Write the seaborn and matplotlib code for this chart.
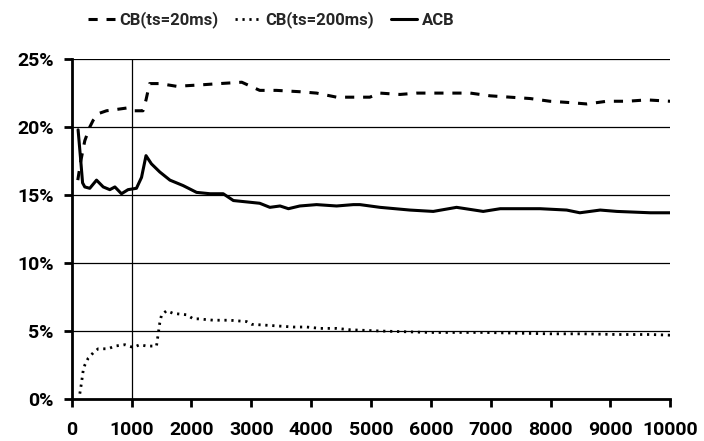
import matplotlib
matplotlib.use("Agg")
import matplotlib.pyplot as plt
import seaborn as sns
import pandas as pd

# Series: fraction (%) over elapsed requests
cb20_x = [100, 150, 217, 300, 357, 450, 580, 750, 914, 1020, 1190, 1240, 1300, 1470,
          1750, 2140, 2475, 2840, 3140, 3420, 3815, 4090, 4425, 4760, 4980, 5150,
          5485, 5765, 5990, 6320, 6660, 6990, 7325, 7660, 7990, 8330, 8610, 8940,
          9280, 9610, 10000]
cb20_y = [16.1, 17.5, 19.0, 20.0, 20.5, 21.0, 21.2, 21.3, 21.4, 21.2, 21.2, 22.0, 23.2,
          23.2, 23.0, 23.1, 23.2, 23.3, 22.7, 22.7, 22.6, 22.5, 22.2, 22.2, 22.2, 22.5,
          22.4, 22.5, 22.5, 22.5, 22.5, 22.3, 22.2, 22.1, 21.9, 21.8, 21.7, 21.9,
          21.9, 22.0, 21.9]

cb200_x = [134, 162, 190, 217, 273, 357, 440, 607, 720, 886, 1025, 1137, 1250, 1415,
           1470, 1500, 1585, 1695, 1920, 2030, 2115, 2365, 2640, 2920, 3005, 3365,
           3700, 3925, 4150, 4425, 4650, 5205, 5595, 5990, 6875, 7990, 8545, 9110,
           9670, 10000]
cb200_y = [0.4, 1.2, 2.1, 2.5, 3.0, 3.4, 3.7, 3.7, 3.9, 4.0, 3.8, 4.0, 3.9, 3.9,
           5.6, 6.2, 6.5, 6.3, 6.2, 5.9, 5.9, 5.8, 5.8, 5.7, 5.5, 5.4,
           5.3, 5.3, 5.2, 5.2, 5.1, 5.0, 4.95, 4.9, 4.9, 4.8, 4.8, 4.75,
           4.75, 4.7]

acb_x = [105, 150, 180, 217, 300, 413, 525, 635, 720, 830, 940, 1080, 1165, 1240,
         1330, 1470, 1640, 1860, 2085, 2310, 2530, 2700, 2920, 3140, 3310, 3480,
         3620, 3810, 4090, 4425, 4705, 4815, 5150, 5650, 6040, 6430, 6875, 7160,
         7825, 8270, 8490, 8830, 9110, 9670, 10000]
acb_y = [19.8, 17.5, 15.9, 15.6, 15.5, 16.1, 15.6, 15.4, 15.6, 15.1, 15.4, 15.5, 16.3,
         17.9, 17.3, 16.7, 16.1, 15.7, 15.2, 15.1, 15.1, 14.6, 14.5, 14.4, 14.1, 14.2,
         14.0, 14.2, 14.3, 14.2, 14.3, 14.3, 14.1, 13.9, 13.8, 14.1, 13.8, 14.0,
         14.0, 13.9, 13.7, 13.9, 13.8, 13.7, 13.7]

series_names = ["CB(ts=20ms)", "CB(ts=200ms)", "ACB"]
x_ticks = [0, 1000, 2000, 3000, 4000, 5000, 6000, 7000, 8000, 9000, 10000]
y_ticks = [0, 5, 10, 15, 20, 25]
y_tick_labels = ["0%", "5%", "10%", "15%", "20%", "25%"]

sns.set_style("ticks")
plt.rcParams["font.family"] = ["Roboto", "DejaVu Sans"]
plt.rcParams["font.weight"] = "bold"

fig = plt.figure(figsize=(7.04, 4.41), dpi=100)
ax = fig.add_axes([0.102, 0.095, 0.850, 0.771])

# horizontal grid and the marker line at 1000
for yv in y_ticks[1:]:
    ax.axhline(yv, color="black", lw=0.9, zorder=1)
ax.axvline(1000, color="black", lw=0.9, zorder=1)

df20 = pd.DataFrame({"x": cb20_x, "y": cb20_y})
df200 = pd.DataFrame({"x": cb200_x, "y": cb200_y})
dfacb = pd.DataFrame({"x": acb_x, "y": acb_y})

sns.lineplot(data=df20, x="x", y="y", ax=ax, color="black", lw=2.2,
             label=series_names[0], zorder=3)
ax.lines[-1].set_dashes((3.0, 2.9))
sns.lineplot(data=df200, x="x", y="y", ax=ax, color="black", lw=2.0,
             label=series_names[1], zorder=3)
ax.lines[-1].set_dashes((0.8, 1.7))
sns.lineplot(data=dfacb, x="x", y="y", ax=ax, color="black", lw=2.2,
             label=series_names[2], zorder=3)

ax.set_xlim(0, 10000)
ax.set_ylim(0, 25)
ax.set_xticks(x_ticks)
ax.set_xticklabels([str(v) for v in x_ticks])
ax.set_yticks(y_ticks)
ax.set_yticklabels(y_tick_labels)
ax.set_xlabel("")
ax.set_ylabel("")

for side in ["top", "right"]:
    ax.spines[side].set_visible(False)
for side in ["left", "bottom"]:
    ax.spines[side].set_color("black")
    ax.spines[side].set_linewidth(2.0)
ax.xaxis.set_ticks_position("bottom")
ax.yaxis.set_ticks_position("left")
ax.tick_params(axis="both", which="major", direction="out", length=6, width=2,
               color="black", labelsize=14, labelcolor="black",
               bottom=True, left=True)
ax.tick_params(axis="x", pad=10)
ax.tick_params(axis="y", pad=7)
for lab in ax.get_xticklabels() + ax.get_yticklabels():
    lab.set_fontweight("bold")

handles, labels = ax.get_legend_handles_labels()
ax.get_legend().remove()
fig.legend(handles, labels, loc="center", bbox_to_anchor=(0.385, 0.955), ncol=3,
           frameon=False, handlelength=1.6, handletextpad=0.25, columnspacing=1.0,
           prop={"size": 12, "weight": "bold"})

fig.savefig("out.png", dpi=100)
